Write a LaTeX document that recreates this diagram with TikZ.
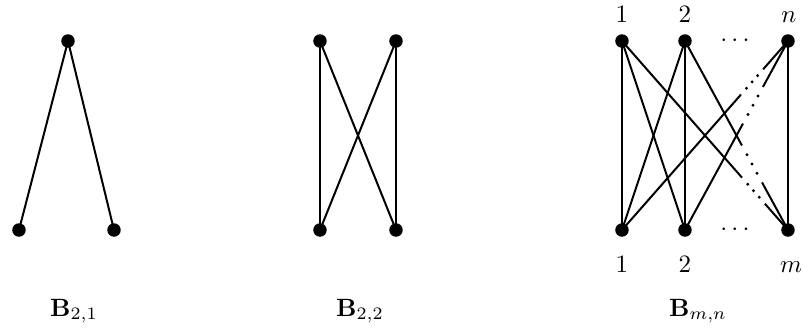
\documentclass[tikz,border=0pt]{standalone}
\usetikzlibrary{calc,math}

% edge broken by three dots between fractions #3 and #4
\newcommand{\cutedge}[4]{%
  \draw (#1) -- ($(#1)!#3!(#2)$);
  \draw ($(#1)!#4!(#2)$) -- (#2);
  \foreach \t in {0.25,0.5,0.75}
    \fill ($(#1)!{#3+(#4-#3)*\t}!(#2)$) circle (0.65pt);
}

\begin{document}
\begin{tikzpicture}[x=0.4pt,y=-0.4pt,line width=0.8pt]
\tikzmath{
\r=2.7;
}
\useasboundingbox (0,0) rectangle (803,334);

% B_{2,1}
\coordinate (a1) at (68,41);
\coordinate (b1) at (19,230);
\coordinate (b2) at (114,230);
\draw (a1) -- (b1);
\draw (a1) -- (b2);
\foreach \v in {a1,b1,b2} \fill (\v) circle (\r pt);
\node[anchor=base] (capA) at (74,316) {$\mathbf{B}_{2,1}$};

% B_{2,2}
\coordinate (c1) at (320,41);
\coordinate (c2) at (396,41);
\coordinate (d1) at (320,230);
\coordinate (d2) at (396,230);
\draw (c1) -- (d1);
\draw (c2) -- (d2);
\draw (c1) -- (d2);
\draw (c2) -- (d1);
\foreach \v in {c1,c2,d1,d2} \fill (\v) circle (\r pt);
\node[anchor=base] (capB) at (360,316) {$\mathbf{B}_{2,2}$};

% B_{m,n}
\coordinate (t1) at (622,41);
\coordinate (t2) at (685,41);
\coordinate (tn) at (788,41);
\coordinate (s1) at (622,230);
\coordinate (s2) at (685,230);
\coordinate (sm) at (788,230);
\foreach \u in {t1,t2} {
  \foreach \w in {s1,s2} \draw (\u) -- (\w);
}
\draw (tn) -- (sm);
\cutedge{t1}{sm}{0.723}{0.861}
\cutedge{t2}{sm}{0.553}{0.748}
\cutedge{s1}{tn}{0.717}{0.85}
\cutedge{s2}{tn}{0.563}{0.757}
\foreach \v in {t1,t2,tn,s1,s2,sm} \fill (\v) circle (\r pt);

\node (dtop) at (735,41) {$\cdots$};
\node (dbot) at (735,230) {$\cdots$};
\node[anchor=base] (lt1) at (622,22) {$1$};
\node[anchor=base] (lt2) at (685,22) {$2$};
\node[anchor=base] (ltn) at (789,22) {$n$};
\node[anchor=base] (ls1) at (622,272) {$1$};
\node[anchor=base] (ls2) at (685,272) {$2$};
\node[anchor=base] (lsm) at (791,272) {$m$};
\node[anchor=base] (capC) at (698,316) {$\mathbf{B}_{m,n}$};
\end{tikzpicture}
\end{document}
